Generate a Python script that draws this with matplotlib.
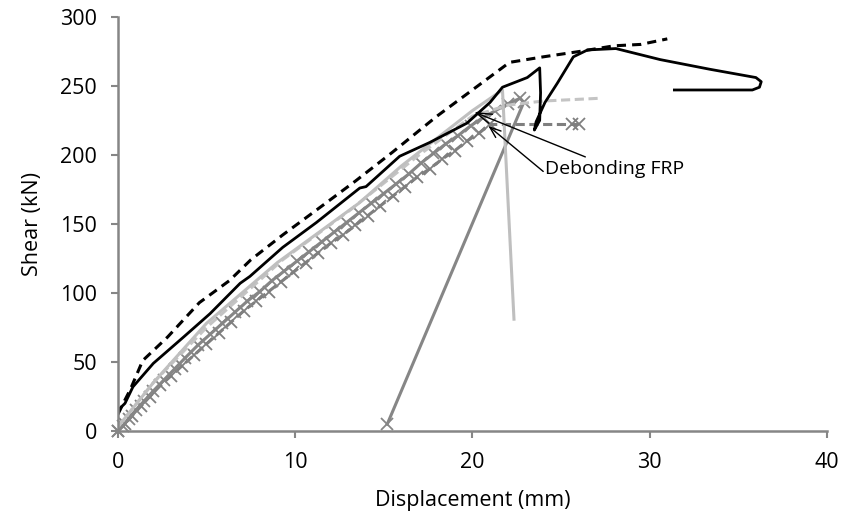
import matplotlib
matplotlib.use("Agg")
import matplotlib.pyplot as plt

plt.rcParams['font.family'] = ['Open Sans', 'DejaVu Sans']

# black dashed
bd_x = [0, 0.3, 0.7, 1.4, 2.8, 4.6, 6.3, 7.5, 9.3, 11.2, 13.4, 15.5, 18.0, 20.0, 22.1, 24.0, 26.1, 28.0, 29.5, 31.0]
bd_y = [12, 20, 30, 51, 68, 93, 109, 124, 142, 160, 181, 202, 228, 247, 267, 271, 275, 279, 280, 284]

# black solid
bs_x = [0, 0.4, 0.85, 2.0, 3.7, 5.2, 6.9, 7.45, 9.3, 11.2, 13.65, 14.0, 15.9, 17.6, 19.7, 21.0, 21.7, 23.1,
        23.8, 23.85, 23.8, 23.5, 23.6, 24.1, 24.8, 25.7, 26.5, 28.1, 30.6, 33.4, 36.0, 36.3, 36.2, 35.8, 31.4]
bs_y = [15, 20, 32, 49, 68, 85, 107, 112, 133, 151, 176, 177, 199, 209, 223, 238, 249, 256,
        263, 245, 225, 218, 224, 238, 252, 271, 276, 277, 269, 262, 256, 253, 249, 247, 247]

# light grey dashed
ld_x = [0, 2.0, 5.0, 9.3, 13.1, 17.0, 20.0, 22.0, 24.0, 27.2]
ld_y = [3, 35, 75, 124, 160, 200, 228, 236, 239, 241]

# light grey solid
ls_x = [0, 2.0, 5.0, 9.0, 13.6, 16.0, 20.0, 21.7, 22.0, 22.35]
ls_y = [3, 35, 78, 122, 165, 192, 232, 247, 170, 81]

# medium grey solid with markers
ms_x = [0, 0.3, 0.6, 1.0, 1.5, 2.0, 2.6, 3.2, 3.8, 4.5, 5.2, 5.9, 6.6, 7.3, 8.0, 8.7, 9.4, 10.1, 10.8,
        11.5, 12.2, 12.9, 13.6, 14.3, 15.0, 15.7, 16.4, 17.1, 17.8, 18.5, 19.2, 19.9, 20.6, 21.3, 22.0,
        22.7, 22.9, 15.2]
ms_y = [0, 4, 9, 15, 22, 29, 37, 45, 53, 62, 70, 78, 86, 94, 101, 109, 116, 123, 130,
        137, 144, 151, 158, 165, 172, 179, 186, 194, 201, 208, 214, 221, 227, 232, 237,
        241, 238, 5]

# medium grey dashed with markers
md_x = [0, 0.4, 0.8, 1.3, 1.8, 2.4, 3.0, 3.6, 4.3, 5.0, 5.7, 6.4, 7.1, 7.8, 8.5, 9.2, 9.9, 10.6, 11.3,
        12.0, 12.7, 13.4, 14.1, 14.8, 15.5, 16.2, 16.9, 17.6, 18.3, 19.0, 19.7, 20.4, 21.0, 25.6, 26.0]
md_y = [0, 5, 11, 18, 25, 33, 40, 47, 55, 63, 71, 79, 87, 94, 101, 108, 115, 122, 129,
        136, 142, 149, 156, 163, 170, 177, 184, 190, 197, 203, 210, 216, 222, 222, 222]

fig = plt.figure(figsize=(8.48, 5.25), dpi=100)
ax = fig.add_axes([0.139, 0.179, 0.836, 0.789])

ax.plot(md_x, md_y, color='#7f7f7f', lw=2.2, ls=(0, (3, 1.5)), marker='x', ms=8, mew=1.3, clip_on=False)
ax.plot(ms_x, ms_y, color='#868686', lw=2.2, marker='x', ms=8, mew=1.3, clip_on=False)
ax.plot(ld_x, ld_y, color='#c4c4c4', lw=2.2, ls=(0, (3, 1.5)))
ax.plot(ls_x, ls_y, color='#bfbfbf', lw=2.2)
ax.plot(bs_x, bs_y, color='black', lw=2.0)
ax.plot(bd_x, bd_y, color='black', lw=2.2, ls=(0, (3, 2)))

ax.annotate('Debonding FRP', xy=(20.1, 231), xytext=(24.1, 190), fontsize=14, va='center',
            arrowprops=dict(arrowstyle='->,head_length=0.8,head_width=0.25', color='black', lw=1,
                            shrinkA=0, shrinkB=0))
ax.annotate('', xy=(20.9, 221), xytext=(24.0, 188),
            arrowprops=dict(arrowstyle='->,head_length=0.8,head_width=0.3', color='black', lw=1,
                            shrinkA=0, shrinkB=0))

ax.set_xlim(0, 40)
ax.set_ylim(0, 300)
ax.set_xticks([0, 10, 20, 30, 40])
ax.set_yticks(range(0, 301, 50))
ax.set_xlabel('Displacement (mm)', fontsize=15.5, labelpad=12)
ax.set_ylabel('Shear (kN)', fontsize=15.5, labelpad=12)
ax.tick_params(labelsize=15.5, color='#868686', length=5, width=1.5, pad=10)
for s in ['top', 'right']:
    ax.spines[s].set_visible(False)
for s in ['left', 'bottom']:
    ax.spines[s].set_color('#868686')
    ax.spines[s].set_linewidth(1.8)

fig.savefig('out.png', dpi=100)
